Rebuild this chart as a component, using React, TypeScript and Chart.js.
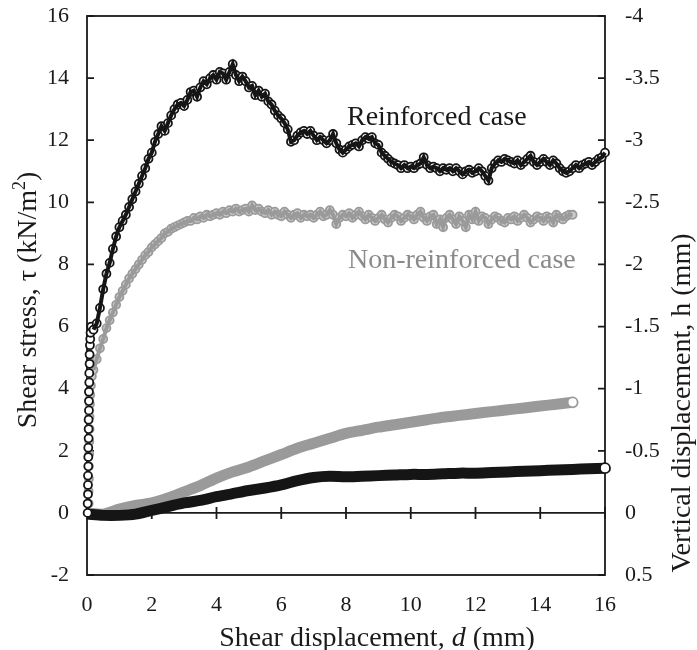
import React, { useEffect, useRef } from "react";
import { Chart, registerables } from "chart.js";

Chart.register(...registerables);

// Shear displacement grid (mm) used by the shear-stress curves
const gridD = [
  0.2, 0.3, 0.4, 0.5, 0.6, 0.7, 0.8, 0.9,
  1.0, 1.1, 1.2, 1.3, 1.4, 1.5, 1.6, 1.7, 1.8, 1.9,
  2.0, 2.1, 2.2, 2.3, 2.4, 2.5, 2.6, 2.7, 2.8, 2.9,
  3.0, 3.1, 3.2, 3.3, 3.4, 3.5, 3.6, 3.7, 3.8, 3.9,
  4.0, 4.1, 4.2, 4.3, 4.4, 4.5, 4.6, 4.7, 4.8, 4.9,
  5.0, 5.1, 5.2, 5.3, 5.4, 5.5, 5.6, 5.7, 5.8, 5.9,
  6.0, 6.1, 6.2, 6.3, 6.4, 6.5, 6.6, 6.7, 6.8, 6.9,
  7.0, 7.1, 7.2, 7.3, 7.4, 7.5, 7.6, 7.7, 7.8, 7.9,
  8.0, 8.1, 8.2, 8.3, 8.4, 8.5, 8.6, 8.7, 8.8, 8.9,
  9.0, 9.1, 9.2, 9.3, 9.4, 9.5, 9.6, 9.7, 9.8, 9.9,
  10.0, 10.1, 10.2, 10.3, 10.4, 10.5, 10.6, 10.7, 10.8, 10.9,
  11.0, 11.1, 11.2, 11.3, 11.4, 11.5, 11.6, 11.7, 11.8, 11.9,
  12.0, 12.1, 12.2, 12.3, 12.4, 12.5, 12.6, 12.7, 12.8, 12.9,
  13.0, 13.1, 13.2, 13.3, 13.4, 13.5, 13.6, 13.7, 13.8, 13.9,
  14.0, 14.1, 14.2, 14.3, 14.4, 14.5, 14.6, 14.7, 14.8, 14.9,
  15.0, 15.1, 15.2, 15.3, 15.4, 15.5, 15.6, 15.7, 15.8, 15.9,
  16.0,
];

// Reinforced case: initial near-vertical rise at d ~ 0
const stackDispReinf = [0.02, 0.02, 0.03, 0.03, 0.03, 0.04, 0.04, 0.04, 0.05, 0.05, 0.05, 0.06, 0.06, 0.06, 0.07, 0.07, 0.08, 0.08, 0.09, 0.1, 0.11, 0.13];
const stackTauReinf = [0.0, 0.3, 0.6, 0.9, 1.2, 1.5, 1.8, 2.1, 2.4, 2.7, 3.0, 3.3, 3.6, 3.9, 4.2, 4.5, 4.8, 5.1, 5.4, 5.6, 5.8, 6.0];

// Reinforced case shear stress (kN/m2) on gridD
const tauReinf = [
  5.9, 6.1, 6.6, 7.2, 7.7, 8.05, 8.5, 8.9,
  9.2, 9.4, 9.6, 9.85, 10.1, 10.35, 10.6, 10.85, 11.1, 11.4,
  11.6, 11.95, 12.2, 12.45, 12.3, 12.55, 12.8, 13.0, 13.15, 13.2,
  13.1, 13.3, 13.55, 13.6, 13.4, 13.7, 13.9, 13.8, 14.0, 14.1,
  13.95, 14.2, 14.15, 13.95, 14.2, 14.45, 14.1, 13.9, 14.05, 13.9,
  13.7, 13.75, 13.45, 13.6, 13.4, 13.5, 13.25, 13.15, 12.95, 12.8,
  12.7, 12.55, 12.35, 11.95, 12.0, 12.15, 12.25, 12.3, 12.2, 12.3,
  12.15, 12.0, 12.1, 12.0, 11.9, 12.0, 12.2, 11.9, 11.7, 11.6,
  11.7, 11.8, 11.85, 11.9, 11.8, 12.0, 12.1, 12.05, 12.1, 11.9,
  11.85, 11.6, 11.5, 11.4, 11.3, 11.25, 11.2, 11.1, 11.2, 11.1,
  11.15, 11.1, 11.2, 11.25, 11.45, 11.2, 11.1, 11.15, 11.1, 11.0,
  11.1, 11.05, 11.1, 11.0, 11.1, 11.0, 10.9, 11.0, 11.05, 10.95,
  11.0, 11.1, 11.0, 10.85, 10.7, 11.1, 11.25, 11.35, 11.3, 11.4,
  11.35, 11.3, 11.25, 11.35, 11.2, 11.3, 11.4, 11.5, 11.3, 11.2,
  11.3, 11.4, 11.3, 11.2, 11.35, 11.25, 11.1, 11.0, 10.95, 11.0,
  11.1, 11.2, 11.1, 11.2, 11.25, 11.3, 11.2, 11.3, 11.4, 11.45,
  11.6,
];

// Non-reinforced case: initial rise at d ~ 0
const stackDispNon = [0.05, 0.05, 0.06, 0.06, 0.07, 0.07, 0.08, 0.08, 0.09, 0.1, 0.12, 0.15];
const stackTauNon = [0.3, 0.7, 1.1, 1.5, 1.9, 2.3, 2.7, 3.1, 3.5, 3.8, 4.1, 4.4];

// Non-reinforced case shear stress (kN/m2) on gridD (up to d = 15)
const tauNon = [
  4.6, 4.95, 5.3, 5.6, 5.95, 6.2, 6.45, 6.7,
  6.95, 7.15, 7.35, 7.55, 7.7, 7.85, 8.0, 8.15, 8.3, 8.4,
  8.55, 8.65, 8.75, 8.85, 9.0, 9.05, 9.15, 9.2, 9.25, 9.3,
  9.35, 9.4, 9.4, 9.5, 9.45, 9.55, 9.5, 9.6, 9.55, 9.6,
  9.65, 9.6, 9.7, 9.65, 9.75, 9.7, 9.8, 9.7, 9.75, 9.8,
  9.7, 9.9, 9.75, 9.8, 9.7, 9.65, 9.75, 9.6, 9.7, 9.6,
  9.55, 9.7, 9.6, 9.5, 9.6, 9.65, 9.5, 9.6, 9.55, 9.6,
  9.5, 9.6, 9.7, 9.55, 9.6, 9.75, 9.6, 9.3, 9.5, 9.6,
  9.55, 9.65, 9.5, 9.6, 9.7, 9.55, 9.45, 9.6, 9.5, 9.4,
  9.5, 9.6, 9.45, 9.35, 9.5, 9.6, 9.55, 9.4, 9.5, 9.6,
  9.55, 9.45, 9.6, 9.7, 9.5, 9.4, 9.55, 9.6, 9.3, 9.45,
  9.2, 9.5, 9.6, 9.45, 9.3, 9.55, 9.4, 9.2, 9.6, 9.45,
  9.7, 9.4, 9.55, 9.5, 9.3, 9.45, 9.55, 9.5, 9.4, 9.35,
  9.5, 9.45, 9.55, 9.4, 9.5, 9.6, 9.5, 9.35, 9.45, 9.55,
  9.5, 9.4, 9.55, 9.5, 9.35, 9.6, 9.5, 9.45, 9.55, 9.6,
  9.6,
];

// Vertical displacement h (mm), right axis
const vdDisp = [0, 0.5, 1, 1.5, 2, 2.5, 3, 3.5, 4, 4.5, 5, 5.5, 6, 6.5, 7, 7.5, 8, 8.5, 9, 9.5, 10, 10.5, 11, 11.5, 12, 12.5, 13, 13.5, 14, 14.5, 15, 15.5, 16];
const hReinf = [0.01, 0.02, 0.02, 0.01, -0.02, -0.05, -0.08, -0.1, -0.13, -0.155, -0.18, -0.2, -0.225, -0.26, -0.285, -0.295, -0.29, -0.295, -0.3, -0.305, -0.31, -0.31, -0.315, -0.32, -0.32, -0.325, -0.33, -0.335, -0.34, -0.345, -0.35, -0.355, -0.36];
const hNon = [0, 0.01, -0.03, -0.06, -0.08, -0.12, -0.17, -0.22, -0.28, -0.33, -0.37, -0.42, -0.47, -0.52, -0.56, -0.6, -0.64, -0.665, -0.69, -0.71, -0.73, -0.75, -0.77, -0.785, -0.8, -0.815, -0.83, -0.845, -0.86, -0.875, -0.89];

const FONT = "'Liberation Serif', 'Times New Roman', serif";
const INK = "#1a1a1a";
const BLACK = "#151515";
const GREY = "#9a9a9a";

const pts = (xs: number[], ys: number[]) => ys.map((v, i) => ({ x: xs[i], y: v }));

const framePlugin = {
  id: "frame",
  beforeDatasetsDraw(chart: any) {
    const { ctx, chartArea: a, scales } = chart;
    const xs = scales.x, ys = scales.y, y2 = scales.y2;
    ctx.save();
    ctx.strokeStyle = INK;
    ctx.lineWidth = 1.8;
    ctx.strokeRect(a.left, a.top, a.right - a.left, a.bottom - a.top);
    const y0 = ys.getPixelForValue(0);
    ctx.beginPath();
    ctx.moveTo(a.left, y0);
    ctx.lineTo(a.right, y0);
    xs.ticks.forEach((t: any) => {
      const px = xs.getPixelForValue(t.value);
      ctx.moveTo(px, y0 - 6);
      ctx.lineTo(px, y0 + 6);
    });
    ys.ticks.forEach((t: any) => {
      const py = ys.getPixelForValue(t.value);
      ctx.moveTo(a.left, py);
      ctx.lineTo(a.left + 7, py);
    });
    y2.ticks.forEach((t: any) => {
      const py = y2.getPixelForValue(t.value);
      ctx.moveTo(a.right - 7, py);
      ctx.lineTo(a.right, py);
    });
    ctx.stroke();
    ctx.restore();
  },
  afterDraw(chart: any) {
    const { ctx } = chart;
    ctx.save();
    ctx.fillStyle = INK;
    ctx.textBaseline = "alphabetic";
    ctx.textAlign = "left";
    // x title
    const f = `28px ${FONT}`;
    const fi = `italic 28px ${FONT}`;
    ctx.font = f;
    const p1 = "Shear displacement, ";
    const p3 = " (mm)";
    const w1 = ctx.measureText(p1).width;
    const w3 = ctx.measureText(p3).width;
    ctx.font = fi;
    const w2 = ctx.measureText("d").width;
    const x = 377 - (w1 + w2 + w3) / 2;
    ctx.font = f;
    ctx.fillText(p1, x, 646);
    ctx.font = fi;
    ctx.fillText("d", x + w1, 646);
    ctx.font = f;
    ctx.fillText(p3, x + w1 + w2, 646);

    // left title (rotated)
    ctx.save();
    ctx.translate(36, 300);
    ctx.rotate(-Math.PI / 2);
    const l1 = "Shear stress, \u03c4 (kN/m";
    const l3 = ")";
    ctx.font = f;
    const lw1 = ctx.measureText(l1).width;
    const lw3 = ctx.measureText(l3).width;
    ctx.font = `18px ${FONT}`;
    const lw2 = ctx.measureText("2").width;
    const lx = -(lw1 + lw2 + lw3) / 2;
    ctx.font = f;
    ctx.fillText(l1, lx, 0);
    ctx.font = `18px ${FONT}`;
    ctx.fillText("2", lx + lw1, -11);
    ctx.font = f;
    ctx.fillText(l3, lx + lw1 + lw2, 0);
    ctx.restore();

    // right title (rotated)
    ctx.save();
    ctx.translate(690, 403);
    ctx.rotate(-Math.PI / 2);
    ctx.font = f;
    ctx.textAlign = "center";
    ctx.fillText("Vertical displacement, h (mm)", 0, 0);
    ctx.restore();

    // annotations
    ctx.font = f;
    ctx.textAlign = "left";
    ctx.fillStyle = INK;
    ctx.fillText("Reinforced case", 347, 125);
    ctx.fillStyle = "#8a8a8a";
    ctx.fillText("Non-reinforced case", 348, 268);
    ctx.restore();
  },
};

export default function App() {
  const ref = useRef<HTMLCanvasElement | null>(null);

  useEffect(() => {
    if (!ref.current) return;
    const lastR = hReinf.length - 1;
    const lastN = hNon.length - 1;
    const tickFont = { family: FONT, size: 22 };
    const zeroPadY = (s: any, w: number) => {
      s.width = w;
      s.paddingTop = 0;
      s.paddingBottom = 0;
    };
    const chart = new Chart(ref.current, {
      type: "scatter",
      data: {
        datasets: [
          {
            label: "Reinforced shear stress core",
            data: pts(gridD, tauReinf),
            yAxisID: "y",
            showLine: true,
            borderWidth: 4,
            borderColor: BLACK,
            pointRadius: 0,
            clip: false,
            order: 0,
          },
          {
            label: "Reinforced shear stress",
            data: [...pts(stackDispReinf, stackTauReinf), ...pts(gridD, tauReinf)],
            yAxisID: "y",
            pointStyle: "circle",
            pointRadius: 4,
            pointBorderWidth: 1.8,
            borderColor: BLACK,
            backgroundColor: "#ffffff",
            showLine: false,
            clip: false,
            order: 1,
          },
          {
            label: "Reinforced vertical displacement",
            data: pts(vdDisp, hReinf),
            yAxisID: "y2",
            showLine: true,
            borderWidth: 11,
            borderColor: BLACK,
            tension: 0.3,
            pointRadius: (c: any) => (c.dataIndex === lastR ? 5 : 0),
            pointBorderWidth: 1.8,
            pointBorderColor: BLACK,
            pointBackgroundColor: "#ffffff",
            clip: false,
            order: 2,
          },
          {
            label: "Non-reinforced shear stress core",
            data: pts(gridD, tauNon),
            yAxisID: "y",
            showLine: true,
            borderWidth: 4,
            borderColor: GREY,
            pointRadius: 0,
            clip: false,
            order: 3,
          },
          {
            label: "Non-reinforced shear stress",
            data: [...pts(stackDispNon, stackTauNon), ...pts(gridD, tauNon)],
            yAxisID: "y",
            pointStyle: "circle",
            pointRadius: 4,
            pointBorderWidth: 1.8,
            borderColor: GREY,
            backgroundColor: "#cdcdcd",
            showLine: false,
            clip: false,
            order: 4,
          },
          {
            label: "Non-reinforced vertical displacement",
            data: pts(vdDisp, hNon),
            yAxisID: "y2",
            showLine: true,
            borderWidth: 11,
            borderColor: GREY,
            tension: 0.3,
            pointRadius: (c: any) => (c.dataIndex === lastN ? 5 : 0),
            pointBorderWidth: 1.8,
            pointBorderColor: GREY,
            pointBackgroundColor: "#ffffff",
            clip: false,
            order: 3.5,
          },
        ],
      },
      options: {
        animation: false,
        responsive: true,
        maintainAspectRatio: false,
        events: [],
        layout: { padding: { top: 16, left: 0, right: 0, bottom: 0 } },
        plugins: { legend: { display: false }, tooltip: { enabled: false } },
        scales: {
          x: {
            type: "linear",
            min: 0,
            max: 16,
            ticks: { stepSize: 2, font: tickFont, color: INK, padding: 17, maxRotation: 0 },
            grid: { display: false, drawTicks: false },
            border: { display: false },
            afterFit: (s: any) => {
              s.height = 75;
              s.paddingLeft = 0;
              s.paddingRight = 0;
            },
          },
          y: {
            position: "left",
            min: -2,
            max: 16,
            ticks: { stepSize: 2, font: tickFont, color: INK, padding: 18 },
            grid: { display: false, drawTicks: false },
            border: { display: false },
            afterFit: (s: any) => zeroPadY(s, 87),
          },
          y2: {
            position: "right",
            min: -4,
            max: 0.5,
            reverse: true,
            ticks: {
              stepSize: 0.5,
              font: tickFont,
              color: INK,
              padding: 20,
              callback: (v: any) => String(Math.round(Number(v) * 10) / 10),
            },
            grid: { display: false, drawTicks: false },
            border: { display: false },
            afterFit: (s: any) => zeroPadY(s, 92),
          },
        },
      },
      plugins: [framePlugin],
    } as any);
    return () => chart.destroy();
  }, []);

  return (
    <div style={{ position: "fixed", left: 0, top: 0, width: 697, height: 650, background: "#fff" }}>
      <canvas ref={ref} />
    </div>
  );
}
